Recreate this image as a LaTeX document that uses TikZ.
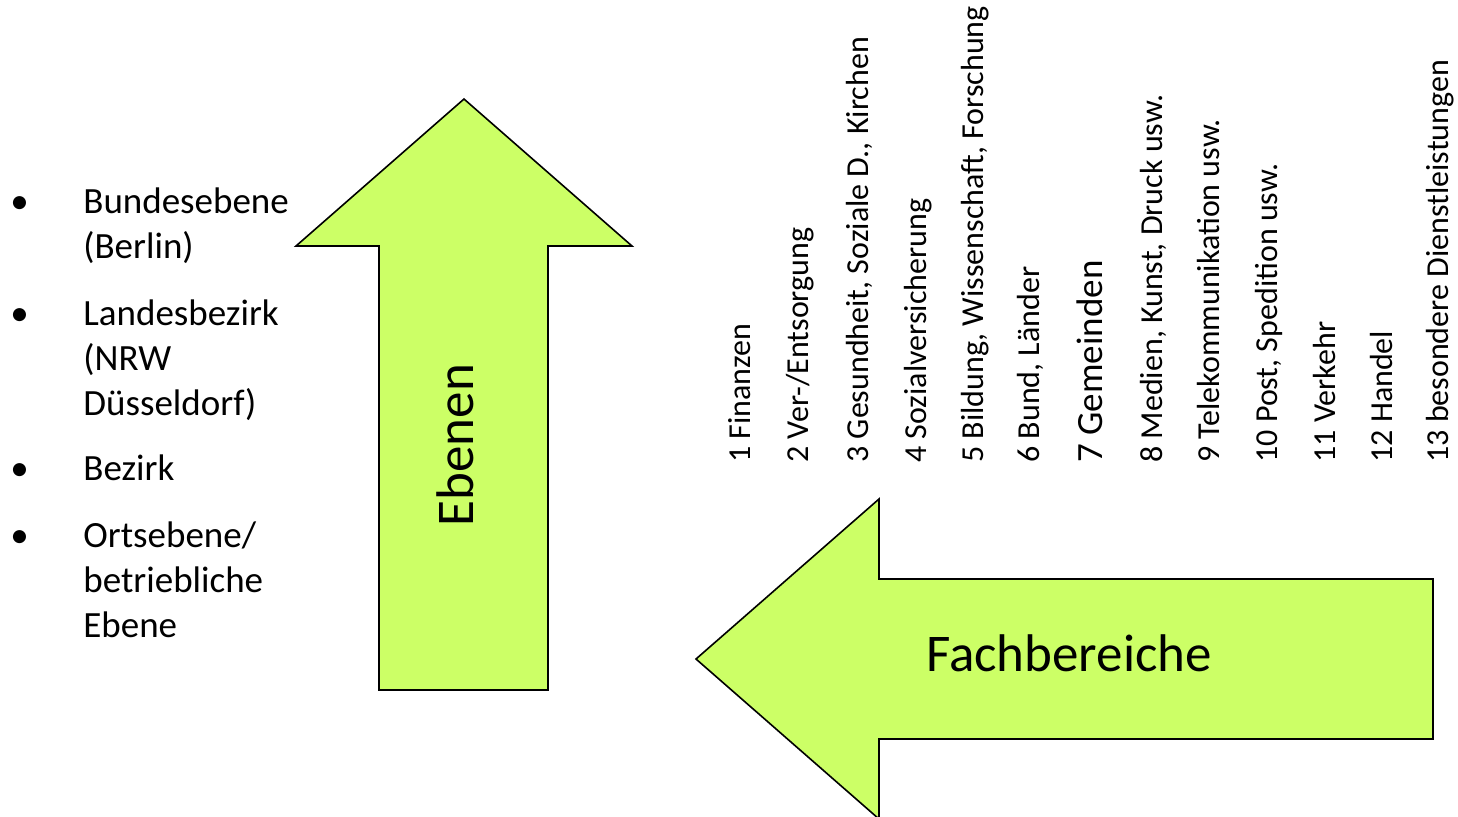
\documentclass[tikz,border=0pt]{standalone}
\usepackage{fontspec}
\setmainfont{Carlito}
\definecolor{arrowgreen}{HTML}{CCFF66}
\tikzset{
  bigarrow/.style={draw=black, line width=0.8pt, fill=arrowgreen, line join=miter},
  punkt/.style={anchor=base west, inner sep=0pt, font=\fontsize{18.5}{22.5}\selectfont},
  ebene/.style={anchor=base west, inner sep=0pt, text width=110pt, align=left, font=\fontsize{18.5}{22.5}\selectfont},
  fach/.style={rotate=90, anchor=base west, inner sep=0pt, font=\fontsize{16}{19}\selectfont},
  titel/.style={anchor=base, inner sep=0pt, font=\fontsize{26.5}{30}\selectfont}
}
\begin{document}
\begin{tikzpicture}[x=0.5pt, y=-0.5pt]
  \useasboundingbox (0,0) rectangle (1458,816);
  % Pfeile
  \filldraw[bigarrow] (464,99) -- (632,246) -- (548,246) -- (548,690)
    -- (379,690) -- (379,246) -- (296,246) -- cycle;
  \filldraw[bigarrow] (696,659) -- (879,499) -- (879,579) -- (1433,579)
    -- (1433,739) -- (879,739) -- (879,819) -- cycle;
  \node[titel, rotate=90] (ebenen) at (473,445) {Ebenen};
  \node[titel] (fachbereiche) at (1069,671) {Fachbereiche};
  % Ebenen links
  \path
    (10,213) node[punkt] (p1) {\textbullet}
    (10,325) node[punkt] (p2) {\textbullet}
    (10,480) node[punkt] (p3) {\textbullet}
    (10,547) node[punkt] (p4) {\textbullet}
    (83,213) node[ebene] (e1) {Bundesebene\\(Berlin)}
    (83,325) node[ebene] (e2) {Landesbezirk\\(NRW\\Düsseldorf)}
    (83,480) node[ebene] (e3) {Bezirk}
    (83,547) node[ebene] (e4) {Ortsebene/\\betriebliche\\Ebene};
  % Fachbereiche oben
  \path
    (750,463) node[fach] (f1) {1 Finanzen}
    (808,463) node[fach] (f2) {2 Ver-/Entsorgung}
    (868,463) node[fach] (f3) {3 Gesundheit, Soziale D., Kirchen}
    (926,463) node[fach] (f4) {4 Sozialversicherung}
    (983,463) node[fach] (f5) {5 Bildung, Wissenschaft, Forschung}
    (1039,463) node[fach] (f6) {6 Bund, Länder}
    (1102,463) node[fach, font=\fontsize{18.5}{22}\selectfont] (f7) {7 Gemeinden}
    (1162,463) node[fach] (f8) {8 Medien, Kunst, Druck usw.}
    (1219,463) node[fach] (f9) {9 Telekommunikation usw.}
    (1277,463) node[fach] (f10) {10 Post, Spedition usw.}
    (1335,463) node[fach] (f11) {11 Verkehr}
    (1392,463) node[fach] (f12) {12 Handel}
    (1448,463) node[fach] (f13) {13 besondere Dienstleistungen};
\end{tikzpicture}
\end{document}
